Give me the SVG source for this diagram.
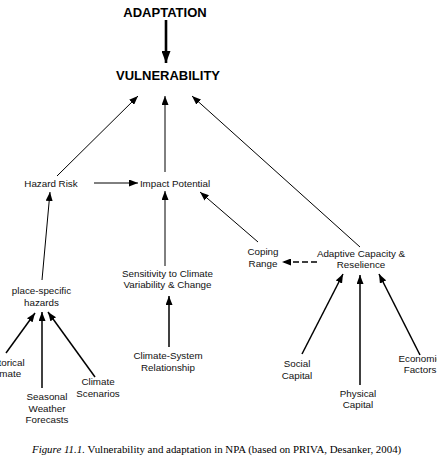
<svg xmlns="http://www.w3.org/2000/svg" width="437" height="461" viewBox="0 0 437 461">
<style>
.t{font-family:"Liberation Sans",Arial,sans-serif;font-size:9.8px;fill:#111;text-anchor:middle}
.b{font-family:"Liberation Sans",Arial,sans-serif;font-size:13px;font-weight:bold;fill:#000;text-anchor:middle}
.c{font-family:"Liberation Serif","Times New Roman",serif;font-size:10.9px;fill:#000}
.l{stroke:#000;stroke-width:1;fill:none;marker-end:url(#ah)}
.m{stroke:#000;stroke-width:1.5;fill:none;marker-end:url(#ah)}
.d{stroke:#000;stroke-width:1.5;fill:none;stroke-dasharray:6,3;marker-end:url(#ah)}
.k{stroke:#000;stroke-width:2.6;fill:none;marker-end:url(#ahb)}
</style>
<defs>
<marker id="ah" markerUnits="userSpaceOnUse" markerWidth="9" markerHeight="7" refX="9" refY="3.5" orient="auto">
<path d="M0,0 L9,3.5 L0,7 z" fill="#000"/>
</marker>
<marker id="ahb" markerUnits="userSpaceOnUse" markerWidth="12" markerHeight="9" refX="12" refY="4.5" orient="auto">
<path d="M0,0 L12,4.5 L0,9 z" fill="#000"/>
</marker>
</defs>
<rect width="437" height="461" fill="#fff"/>
<g id="connectors">
<line class="k" x1="166" y1="20" x2="166" y2="63"/>
<line class="l" x1="57" y1="176" x2="138" y2="96"/>
<line class="l" x1="165" y1="172" x2="165" y2="96"/>
<line class="l" x1="360" y1="247" x2="192" y2="96"/>
<line class="l" x1="94" y1="183" x2="138" y2="183"/>
<line class="l" x1="42" y1="280" x2="50" y2="192"/>
<line class="l" x1="165" y1="266" x2="165" y2="191"/>
<line class="l" x1="258" y1="242" x2="200" y2="192"/>
<line class="d" x1="317" y1="262" x2="282" y2="262"/>
<line class="m" x1="302" y1="354" x2="343" y2="274"/>
<line class="m" x1="360" y1="385" x2="360" y2="275"/>
<line class="m" x1="420" y1="355" x2="379" y2="274"/>
<line class="m" x1="6" y1="353" x2="35" y2="313"/>
<line class="m" x1="42" y1="388" x2="42" y2="312"/>
<line class="m" x1="95" y1="377" x2="48" y2="312"/>
<line class="m" x1="169" y1="347" x2="169" y2="296"/>
</g>
<g id="adaptation"><text class="b" x="165" y="17">ADAPTATION</text></g>
<g id="vulnerability"><text class="b" x="168" y="80">VULNERABILITY</text></g>
<g id="hazard-risk"><text class="t" x="51" y="187">Hazard Risk</text></g>
<g id="impact-potential"><text class="t" x="175" y="187">Impact Potential</text></g>
<g id="coping-range"><text class="t" x="263" y="255">Coping</text><text class="t" x="263" y="267">Range</text></g>
<g id="adaptive-capacity"><text class="t" x="361" y="257">Adaptive Capacity &amp;</text><text class="t" x="361" y="268">Reselience</text></g>
<g id="sensitivity"><text class="t" x="167.5" y="277">Sensitivity to Climate</text><text class="t" x="167.5" y="288">Variability &amp; Change</text></g>
<g id="place-specific-hazards"><text class="t" x="41.5" y="294">place-specific</text><text class="t" x="41.5" y="306">hazards</text></g>
<g id="climate-system"><text class="t" x="168" y="359">Climate-System</text><text class="t" x="168" y="371">Relationship</text></g>
<g id="historical-climate"><text class="t" x="4.5" y="366">Historical</text><text class="t" x="4.5" y="377">Climate</text></g>
<g id="seasonal-forecasts"><text class="t" x="47" y="400">Seasonal</text><text class="t" x="47" y="412">Weather</text><text class="t" x="47" y="423">Forecasts</text></g>
<g id="climate-scenarios"><text class="t" x="98" y="385">Climate</text><text class="t" x="98" y="397">Scenarios</text></g>
<g id="social-capital"><text class="t" x="297" y="367">Social</text><text class="t" x="297" y="379">Capital</text></g>
<g id="physical-capital"><text class="t" x="358" y="397">Physical</text><text class="t" x="358" y="408">Capital</text></g>
<g id="economic-factors"><text class="t" x="420" y="362">Economic</text><text class="t" x="420" y="373">Factors</text></g>
<g id="caption"><text class="c" x="32" y="453"><tspan font-style="italic">Figure 11.1.</tspan> Vulnerability and adaptation in NPA (based on PRIVA, Desanker, 2004)</text></g>
</svg>
